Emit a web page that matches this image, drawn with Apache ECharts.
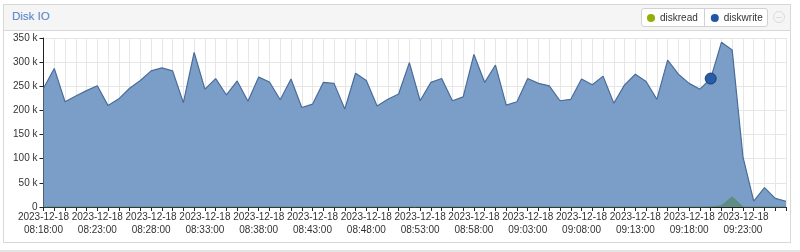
<!DOCTYPE html>
<html>
<head>
<meta charset="utf-8">
<script src="https://cdn.jsdelivr.net/npm/echarts@6/dist/echarts.min.js"></script>
<style>
  html, body { margin:0; padding:0; background:#fff; width:800px; height:252px; overflow:hidden; font-family:"Liberation Sans", Arial, sans-serif; }
  #panel { position:absolute; left:3px; top:4px; width:788px; height:239px; border:1px solid #d8d8d8; background:#fff; box-sizing:border-box; }
  #header { position:absolute; left:0; top:0; right:0; height:25px; background:#f5f5f5; border-bottom:1px solid #d8d8d8; }
  #title { position:absolute; left:8px; top:5px; font-size:11.5px; color:#4f80c9; }
  #legendbox { position:absolute; left:641px; top:8px; width:127px; height:19px; border:1px solid #d2d2d2; border-radius:3px; background:#fff; box-sizing:border-box; }
  #divider { position:absolute; left:704px; top:8px; width:1px; height:19px; background:#d2d2d2; }
  #minus { position:absolute; left:773px; top:11px; width:12px; height:12px; border:1px solid #dcdcdc; border-radius:50%; box-sizing:border-box; }
  #minus:after { content:""; position:absolute; left:2px; top:4.5px; width:6px; height:1px; background:#dcdcdc; }
  #strip { position:absolute; left:0; top:250px; width:800px; height:2px; background:#e4e4e4; }
  #chart { position:absolute; left:0; top:0; width:800px; height:252px; }
</style>
</head>
<body>
<div id="panel"><div id="header"><div id="title">Disk IO</div></div></div>
<div id="legendbox"></div>
<div id="divider"></div>
<div id="minus"></div>
<div id="strip"></div>
<div id="chart"></div>
<script>
// Data (bytes/s), one sample per minute starting 2023-12-18 08:18:00
const startDate = '2023-12-18';
const startHour = 8, startMinute = 18;
const diskwriteK = [246,287,218,230,241,251,210,224,246,262,282,288,282,216,320,244,266,232,261,219,
                    269,259,222,265,206,213,258,256,203,277,262,209,223,234,299,220,258,266,220,228,
                    316,258,294,211,218,266,256,251,220,223,265,253,271,215,253,275,260,223,304,275,
                    256,244,266,341,325,104,12,40,18,12];
const diskreadK  = [0,0,0,0,0,0,0,0,0,0,0,0,0,0,0,0,0,0,0,0,
                    0,0,0,0,0,0,0,0,0,0,0,0,0,0,0,0,0,0,0,0,
                    0,0,0,0,0,0,0,0,0,0,0,0,0,0,0,0,0,0,0,0,
                    0,0,0.3,2.5,21,0,0,0,0,0];
const highlightIndex = 62;
const yTicks = [0, 50000, 100000, 150000, 200000, 250000, 300000, 350000];

const categories = [];
for (let i = 0; i < diskwriteK.length; i++) {
  const t = startHour * 60 + startMinute + i;
  const hh = String(Math.floor(t / 60)).padStart(2, '0');
  const mm = String(t % 60).padStart(2, '0');
  categories.push(startDate + ' ' + hh + ':' + mm + ':00');
}

const writeData = diskwriteK.map((v, i) => {
  if (i === highlightIndex) {
    return { value: v * 1000, symbol: 'circle', symbolSize: 11,
             itemStyle: { color: '#2a5ba6', borderColor: '#1b3d70', borderWidth: 1 } };
  }
  return { value: v * 1000, symbol: 'none' };
});
const readData = diskreadK.map(v => v * 1000);

const chart = echarts.init(document.getElementById('chart'), null, { renderer: 'canvas' });
chart.setOption({
  animation: false,
  legend: {
    left: 642, top: 8, itemWidth: 8, itemHeight: 8, itemGap: 13, icon: 'circle',
    textStyle: { fontSize: 10, color: '#333', fontFamily: 'Liberation Sans' },
    data: ['diskread', 'diskwrite']
  },
  grid: { left: 43.5, right: 14, top: 38, bottom: 45, containLabel: false },
  xAxis: {
    type: 'category', data: categories, boundaryGap: false,
    axisLine: { lineStyle: { color: '#222', width: 1 } },
    axisTick: { interval: 0, length: 4, lineStyle: { color: '#222' } },
    axisLabel: {
      interval: 4, margin: 4, fontSize: 10, color: '#333', lineHeight: 13,
      fontFamily: 'Liberation Sans',
      formatter: v => v.replace(' ', '\n')
    },
    splitLine: { show: true, interval: 0, lineStyle: { color: '#e6e6e6' } }
  },
  yAxis: {
    type: 'value', min: yTicks[0], max: yTicks[yTicks.length - 1], interval: yTicks[1] - yTicks[0],
    axisLine: { show: true, lineStyle: { color: '#222', width: 1 } },
    axisTick: { show: true, length: 4, lineStyle: { color: '#222' } },
    axisLabel: {
      margin: 6, fontSize: 10, color: '#333', fontFamily: 'Liberation Sans',
      formatter: v => v === 0 ? '0' : (v / 1000) + ' k'
    },
    splitLine: { show: true, lineStyle: { color: '#e6e6e6' } }
  },
  series: [
    {
      name: 'diskread', type: 'line', data: readData, symbol: 'none', z: 4,
      itemStyle: { color: '#94ae0a' },
      lineStyle: { color: '#5b8a7c', width: 1 },
      areaStyle: { color: '#5f8d84', opacity: 1 }
    },
    {
      name: 'diskwrite', type: 'line', data: writeData, symbol: 'none', z: 3,
      itemStyle: { color: '#1f56a6' },
      lineStyle: { color: '#4a6c98', width: 1.2 },
      areaStyle: { color: '#7b9ec9', opacity: 1 }
    }
  ]
});
</script>
</body>
</html>
